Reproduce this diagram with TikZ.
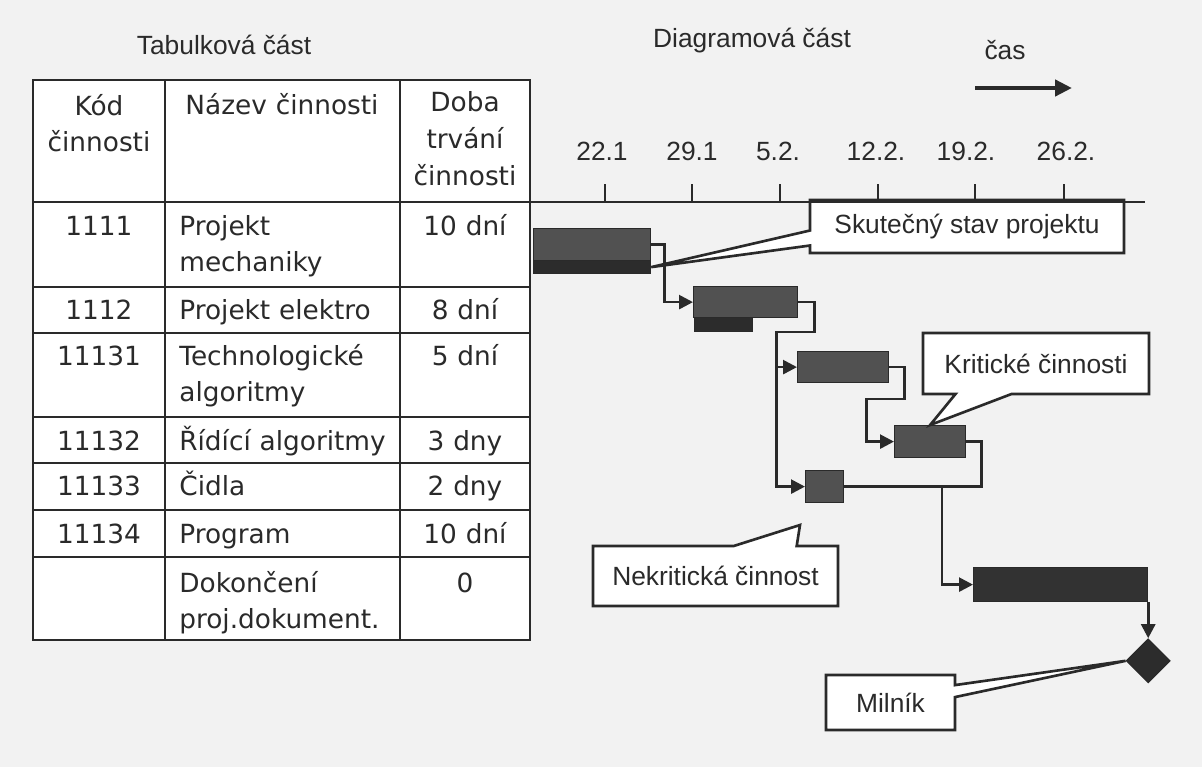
\documentclass[tikz,border=0pt]{standalone}
\usepackage{fontspec}
\setmainfont{Liberation Sans}
\newfontfamily\tabfont{DejaVu Sans}
\usetikzlibrary{arrows.meta,positioning,shapes.geometric,shapes.callouts}

\definecolor{inkc}{HTML}{2A2A2A}
\definecolor{paperc}{HTML}{F2F2F2}
\definecolor{planc}{HTML}{515151}
\definecolor{realc}{HTML}{2C2C2C}

\begin{document}
\begin{tikzpicture}[
    x=0.02cm, y=-0.02cm,
    ink/.style={draw=inkc, line width=1.6pt},
    cellc/.style={font=\tabfont\fontsize{15}{21}\selectfont, text=inkc, inner sep=0, anchor=base, align=center, text width=#1},
    cellc/.default=2.5cm,
    celll/.style={font=\tabfont\fontsize{15}{21}\selectfont, text=inkc, inner sep=0, anchor=base west, align=left, text width=5cm},
    title/.style={font=\fontsize{15}{17}\selectfont, text=inkc, inner sep=0, anchor=base},
    tick/.style={font=\fontsize{15}{17}\selectfont, text=inkc, inner sep=0, anchor=base},
    bar/.style 2 args={draw=inkc, line width=0.7pt, fill=planc, inner sep=0, anchor=north west, minimum width=#1, minimum height=#2},
    realbar/.style 2 args={bar={#1}{#2}, fill=realc},
    milestone/.style={diamond, fill=realc, draw=inkc, line width=0.7pt, inner sep=0, minimum size=0.88cm},
    note/.style={rectangle callout, draw=inkc, line width=1.5pt, fill=white, font=\fontsize{15}{17}\selectfont, text=inkc, inner sep=0, align=center},
    wire/.style={draw=inkc, line width=1.5pt},
    flow/.style={wire, -{Triangle[length=2.8mm, width=2.8mm]}},
    timearr/.style={draw=inkc, line width=2.8pt, -{Triangle[length=3.4mm, width=3.2mm]}}
]
\useasboundingbox (0,0) rectangle (1202,767);
\fill[paperc] (0,0) rectangle (1202,767);

% table part
\node[title] (tabtitle) at (224,55) {Tabulková část};
\draw[ink, fill=white] (33,80) rectangle (530,640);
\foreach \y in {202,287,333,417,463,510,557}
  \draw[ink] (33,\y) -- (530,\y);
\foreach \x in {165,400}
  \draw[ink] (\x,80) -- (\x,640);

\node[cellc] (hcode) at (99,115) {Kód\\činnosti};
\node[cellc=4.4cm] (hname) at (282,114) {Název činnosti};
\node[cellc] (hdur) at (465,112) {Doba\\trvání\\činnosti};

\foreach \base/\code/\task/\dur [count=\i] in {
    235/1111/{Projekt\\mechaniky}/10 dní,
    319/1112/Projekt elektro/8 dní,
    365/11131/{Technologické\\algoritmy}/5 dní,
    450/11132/Řídící algoritmy/3 dny,
    495/11133/Čidla/2 dny,
    543/11134/Program/10 dní,
    592//{Dokončení\\proj.dokument.}/0}{
  \node[cellc] (code\i) at (99,\base) {\code};
  \node[celll] (task\i) at (179,\base) {\task};
  \node[cellc] (dur\i) at (465,\base) {\dur};
}

% diagram part
\node[title] (diatitle) at (752,48) {Diagramová část};
\node[title] (timetitle) at (1005,60) {čas};
\coordinate (t0) at (975,88);
\coordinate (t1) at (1072,88);
\draw[timearr] (t0) -- (t1);

% bars
\node[bar={2.34cm}{0.64cm}] (plan1) at (533,228) {};
\node[realbar={2.34cm}{0.26cm}] (real1) at (533,260) {};
\node[bar={2.08cm}{0.62cm}] (plan2) at (693,286) {};
\node[realbar={1.16cm}{0.28cm}] (real2) at (694,317) {};
\node[bar={1.82cm}{0.62cm}] (bar3) at (797,351) {};
\node[bar={1.42cm}{0.64cm}] (bar4) at (894,425) {};
\node[bar={0.76cm}{0.64cm}] (bar5) at (805,470) {};
\node[realbar={3.48cm}{0.68cm}, fill=realc!85!planc] (bar6) at (973,567) {};
\node[milestone, below=0.72cm of bar6.south east] (ms) {};

% links
\draw[flow] (plan1.east) -- ++(13,0) |- (plan2.west);
\draw[flow] (plan2.east) -- ++(16,0) -- ++(0,30) -- ++(-38,0) |- (bar5.west);
\draw[flow] (bar3.west) ++(-22,0) -- (bar3.west);
\draw[flow] (bar3.east) -- ++(15,0) -- ++(0,32) -- ++(-38,0) |- (bar4.west);
\draw[wire] (bar4.east) -- ++(15,0) |- (bar5.east);
\coordinate (merge) at (942,486);
\draw[flow] (merge) |- (bar6.west);
\draw[flow] (bar6.south east) -- (ms.north);

% callouts
\coordinate (nktip) at (800,525);
\node[note, minimum width=6.28cm, minimum height=1.06cm,
  callout absolute pointer={(real1.east)}, callout pointer width=0.3cm] (actual) at (967,226.5) {Skutečný stav projektu};
\node[note, minimum width=4.52cm, minimum height=1.22cm,
  callout absolute pointer={(bar4.north)}, callout pointer width=1.12cm] (critical) at (1036,363.5) {Kritické činnosti};
\node[note, minimum width=4.9cm, minimum height=1.2cm,
  callout absolute pointer={(nktip)}, callout pointer width=1.26cm] (noncritical) at (715.5,576) {Nekritická činnost};
\node[note, minimum width=2.58cm, minimum height=1.1cm,
  callout absolute pointer={(ms.west)}, callout pointer width=0.24cm] (milestone) at (890.5,702.5) {Milník};

% time axis
\draw[ink] (530,202) -- (1145,202);
\foreach \tx/\lx/\lab in {605/602/22.1, 692/692/29.1, 780/778/5.2., 878/876/12.2., 975/966/19.2., 1064/1066/26.2.}{
  \draw[ink] (\tx,184) -- (\tx,202);
  \node[tick] (date\tx) at (\lx,160) {\lab};
}
\end{tikzpicture}
\end{document}
